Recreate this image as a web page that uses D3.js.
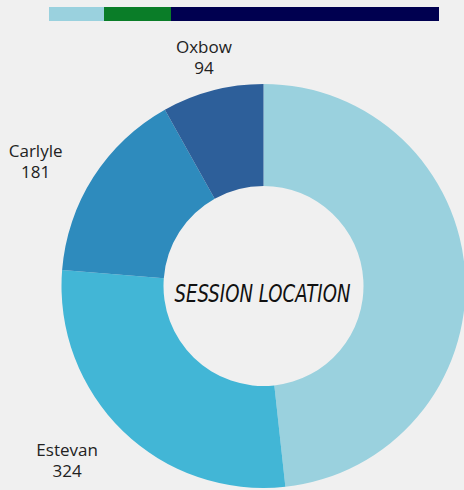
<!DOCTYPE html>
<html>
<head>
<meta charset="utf-8">
<script src="https://cdn.jsdelivr.net/npm/d3@7"></script>
<style>
  html, body { margin: 0; padding: 0; background: #f0f0f0; overflow: hidden; }
  svg { display: block; }
</style>
</head>
<body>
<svg id="chart" width="464" height="490"></svg>
<script>
// Data
const categories = ["Other", "Estevan", "Carlyle", "Oxbow"];
const values = [559, 324, 181, 94];
const showLabel = [false, true, true, true];
const sliceColors = ["#9ad1de", "#42b6d6", "#2e8bbd", "#2d5f9a"];

// Decorative top band
const bandValues = [55, 67, 268];
const bandColors = ["#9ad1de", "#0a7d28", "#000050"];

const title = "SESSION LOCATION";

// Layout
const W = 464, H = 490;
const cx = 263.5, cy = 286;
const outerR = 202, innerR = 100;
const labelRadius = [0, 267, 257, 230];
const labelAngleShift = [0, 0.056, -0.089, -0.007]; // radians

const svg = d3.select("#chart");
svg.append("rect").attr("width", W).attr("height", H).attr("fill", "#f0f0f0");

// Top band
const bandX = d3.scaleLinear().domain([0, d3.sum(bandValues)]).range([49, 439]);
let acc = 0;
const bandData = bandValues.map((v, i) => { const d = { x0: acc, x1: acc + v, c: bandColors[i] }; acc += v; return d; });
svg.append("g").selectAll("rect").data(bandData).join("rect")
  .attr("x", d => bandX(d.x0))
  .attr("width", d => bandX(d.x1) - bandX(d.x0))
  .attr("y", 7).attr("height", 14)
  .attr("fill", d => d.c);

// Donut
const pie = d3.pie().sort(null).value(d => d)(values);
const arc = d3.arc().innerRadius(innerR).outerRadius(outerR);
const g = svg.append("g").attr("transform", `translate(${cx},${cy})`);
g.selectAll("path").data(pie).join("path")
  .attr("d", arc)
  .attr("fill", (d, i) => sliceColors[i]);

// Labels
const lab = g.append("g")
  .attr("font-family", "'Open Sans', 'Noto Sans', sans-serif")
  .attr("font-size", 17)
  .attr("fill", "#222")
  .attr("text-anchor", "middle");
pie.forEach((d, i) => {
  if (!showLabel[i]) return;
  const a = (d.startAngle + d.endAngle) / 2 + labelAngleShift[i];
  const r = labelRadius[i];
  const x = Math.sin(a) * r, y = -Math.cos(a) * r;
  lab.append("text").attr("x", x).attr("y", y - 10.5).text(categories[i]);
  lab.append("text").attr("x", x).attr("y", y + 10.5).text(values[i]);
});

// Center title
g.append("text")
  .attr("x", -1).attr("y", 16)
  .attr("text-anchor", "middle")
  .attr("font-family", "'DejaVu Sans', sans-serif")
  .attr("font-style", "italic")
  .attr("font-size", 24)
  .attr("textLength", 176)
  .attr("lengthAdjust", "spacingAndGlyphs")
  .attr("fill", "#111")
  .text(title);
</script>
</body>
</html>
